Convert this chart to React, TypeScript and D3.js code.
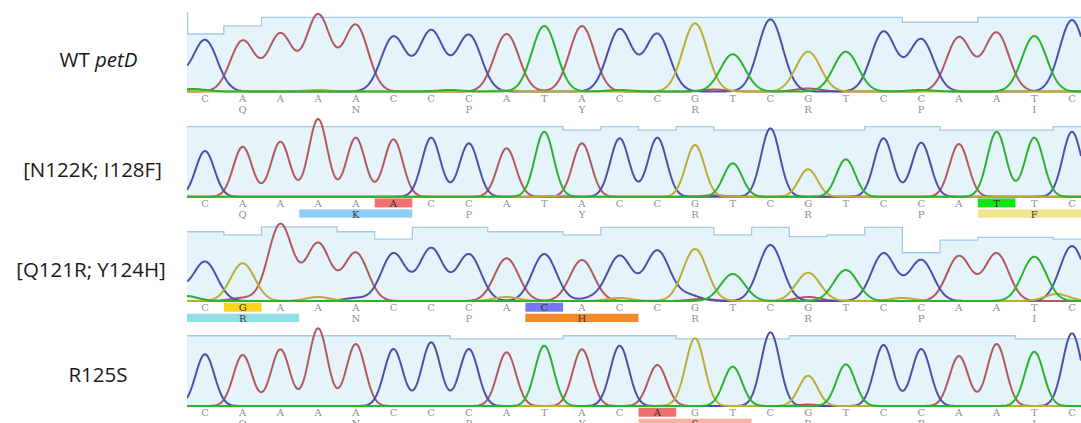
import React from "react";
import * as d3 from "d3";

// ---------- DATA ----------
const W = 1081;
const H = 423;

const channels = ["A", "C", "G", "T"];
const channelColors: Record<string, string> = {
  A: "#b3595c",
  C: "#4c50a8",
  G: "#bcad34",
  T: "#2bb32b",
};

// Panel 1: WT petD
const wtBases = "CAAAACCCATACCGTCGTCCAATC".split("");
const wtHeights = [51.5, 50.8, 57.5, 76.5, 66.5, 54.8, 60.8, 56.5, 57.5, 65.5, 65.5, 62.2, 57.5, 68.2, 37.2, 72.2, 39.8, 39.8, 59.8, 52.2, 54.2, 58.8, 55.5, 71.5];
const wtQuality = [46.5, 53, 60, 60, 60, 60, 60, 60, 60, 60, 60, 60, 60, 60, 60, 60, 60, 60, 60, 56, 56, 60, 60, 60];
const wtAmino = ["Q", "N", "P", "Y", "R", "R", "P", "I"];
const wtMinor: [number, string, number][] = [[-1, "C", 30], [-0.3, "T", 2.5], [3, "G", 1.5], [6.5, "T", 1.5], [8, "G", 1], [11, "T", 1.5], [13.5, "A", 2], [16, "A", 3], [19, "T", 1.5]];

// Panel 2: [N122K; I128F]
const m1Bases = "CAAAAACCATACCGTCGTCCATTC".split("");
const m1Heights = [45.7, 50, 55, 77.7, 59, 57.4, 59, 53.4, 48.4, 65, 53.4, 58.4, 59, 51.7, 33.4, 68.4, 27.4, 37.4, 58.4, 54, 52.7, 65, 59, 65];
const m1Quality = [56.6, 56.6, 56.6, 56.6, 56.6, 56.6, 56.6, 56.6, 56.6, 56.6, 53.9, 56.6, 53.9, 56.6, 53.9, 53.9, 53.9, 53.9, 56.6, 56.6, 53.9, 53.9, 53.9, 56.6];
const m1Amino = ["Q", "K", "P", "Y", "R", "R", "P", "F"];
const m1Minor: [number, string, number][] = [[13.5, "A", 1.5], [9.5, "G", 1]];

// Panel 3: [Q121R; Y124H]
const m2Bases = "CGAAACCCACACCGTCGTCCAATC".split("");
const m2Heights = [39.3, 37.7, 77, 57.7, 48.3, 47.7, 52.7, 46.7, 42.7, 47, 41, 45, 50.3, 52, 27, 56, 28.3, 31, 47.7, 41, 45, 47.7, 44.3, 55];
const m2Quality = [56, 53.4, 60, 60, 56, 50, 59.6, 59.6, 56, 56, 53.4, 59.6, 59.6, 59.6, 53.4, 59.6, 52, 53.4, 59.6, 39, 49.3, 51.5, 51.5, 50];
const m2Amino = ["R", "N", "P", "H", "R", "R", "P", "I"];
const m2Minor: [number, string, number][] = [[-1, "C", 26], [-0.5, "T", 5], [1, "A", 3], [3, "G", 4], [4, "C", 3], [8, "G", 4], [10.3, "C", 3], [11, "G", 3], [12.8, "C", 6], [13.2, "A", 2], [16, "A", 4], [18.5, "G", 3], [22.6, "G", 7]];

// Panel 4: R125S
const m3Bases = "CAAAACCCATACAGTCGTCCAATC".split("");
const m3Heights = [51.7, 51, 56.7, 77.7, 62, 57, 63.7, 57, 53.7, 60.3, 56.7, 60.3, 41, 67.7, 39.3, 73.7, 30.3, 41.7, 61, 57, 50, 62, 54.3, 72.7];
const m3Quality = [56.8, 56.8, 56.8, 56.8, 56.8, 56.8, 56.8, 54.2, 54.2, 54.2, 56.8, 56.8, 56.8, 54.2, 54.2, 54.2, 56.8, 56.8, 56.8, 56.8, 56.8, 56.8, 54.2, 54.2];
const m3Amino = ["Q", "N", "P", "Y", "S", "R", "P", "I"];
const m3Minor: [number, string, number][] = [[16, "A", 1.5], [12.5, "G", 1]];

// Highlights: [base index, colour] and [codon index, colour]
const m1BaseMarks: [number, string][] = [[5, "#f07272"], [21, "#14e414"]];
const m1CodonMarks: [number, string][] = [[1, "#8fcdf5"], [7, "#f0e48e"]];
const m2BaseMarks: [number, string][] = [[1, "#f7d41e"], [9, "#7878f0"]];
const m2CodonMarks: [number, string][] = [[0, "#92e0e6"], [3, "#f58a2c"]];
const m3BaseMarks: [number, string][] = [[12, "#f07070"]];
const m3CodonMarks: [number, string][] = [[4, "#f8b4a2"]];

const labels: [string, boolean][][] = [
  [["WT ", false], ["petD", true]],
  [["[N122K; I128F]", false]],
  [["[Q121R; Y124H]", false]],
  [["R125S", false]],
];

// ---------- LAYOUT ----------
const X0 = 187;
const X1 = 1081;
const layouts = [
  { baseline: 91.5, sigma: 12.3, labelX: 98.5, labelY: 66.7, prevQ: 64 },
  { baseline: 196.7, sigma: 9.3, labelX: 92.5, labelY: 177.3, prevQ: null },
  { baseline: 301, sigma: 12, labelX: 91, labelY: 277.3, prevQ: null },
  { baseline: 406, sigma: 9.3, labelX: 98, labelY: 382, prevQ: null },
];

const panels = [
  { bases: wtBases, heights: wtHeights, quality: wtQuality, amino: wtAmino, minor: wtMinor, baseMarks: [] as [number, string][], codonMarks: [] as [number, string][] },
  { bases: m1Bases, heights: m1Heights, quality: m1Quality, amino: m1Amino, minor: m1Minor, baseMarks: m1BaseMarks, codonMarks: m1CodonMarks },
  { bases: m2Bases, heights: m2Heights, quality: m2Quality, amino: m2Amino, minor: m2Minor, baseMarks: m2BaseMarks, codonMarks: m2CodonMarks },
  { bases: m3Bases, heights: m3Heights, quality: m3Quality, amino: m3Amino, minor: m3Minor, baseMarks: m3BaseMarks, codonMarks: m3CodonMarks },
];

const x = d3.scaleLinear().domain([0, 23]).range([205, 1072]);
const stepW = x(1) - x(0);
const letterFont = "'DejaVu Serif', 'Liberation Serif', serif";

function Panel({ p, L, idx }: any) {
  const base = L.baseline;
  const y = d3.scaleLinear().domain([0, 80]).range([base, base - 80]);
  const yq = d3.scaleLinear().domain([0, 60]).range([base, base - 74.2]);

  const peaks = [
    ...p.bases.map((b: string, i: number) => ({ pos: i, ch: b, h: p.heights[i] })),
    ...p.minor.map(([pos, ch, h]: [number, string, number]) => ({ pos, ch, h })),
  ];
  const xs = d3.range(X0, X1 + 0.5, 1);
  const line = d3.line<[number, number]>().x((d) => d[0]).y((d) => y(d[1]));
  const traces = channels.map((ch) => {
    const ps = peaks.filter((q: any) => q.ch === ch);
    const pts: [number, number][] = xs.map((px) => [
      px,
      ps.reduce((s: number, q: any) => s + q.h * Math.exp(-((px - x(q.pos)) ** 2) / (2 * L.sigma * L.sigma)), 0),
    ]);
    return { ch, d: line(pts) };
  });

  const qpts: [number, number][] = p.quality.map((q: number, i: number) => [i === 0 ? X0 : x(i) - stepW / 2, q]);
  qpts.push([X1, p.quality[p.quality.length - 1]]);
  const qArea = d3.area<[number, number]>().curve(d3.curveStepAfter).x((d) => d[0]).y0(base).y1((d) => yq(d[1]));
  const qLine = d3.line<[number, number]>().curve(d3.curveStepAfter).x((d) => d[0]).y((d) => yq(d[1]));

  const clipId = `clip${idx}`;
  const markMap = new Map<number, string>(p.baseMarks);
  const codonMap = new Map<number, string>(p.codonMarks);

  return (
    <g>
      <defs>
        <clipPath id={clipId}>
          <rect x={X0} y={base - 100} width={X1 - X0} height={140} />
        </clipPath>
      </defs>
      <g clipPath={`url(#${clipId})`}>
        <path d={qArea(qpts) || ""} fill="#e5f4fb" />
        <path d={qLine(qpts) || ""} fill="none" stroke="#a6c9e6" strokeWidth={1.3} />
        {L.prevQ != null && (
          <line x1={X0 + 0.6} x2={X0 + 0.6} y1={yq(L.prevQ)} y2={yq(p.quality[0])} stroke="#a6c9e6" strokeWidth={1.3} />
        )}
        {traces.map((t) => (
          <path key={t.ch} d={t.d || ""} fill="none" stroke={channelColors[t.ch]} strokeWidth={2} strokeLinejoin="round" />
        ))}
        {p.codonMarks.map(([c, col]: [number, string]) => (
          <rect key={"cb" + c} x={x(c * 3) - stepW / 2} y={base + 12.7} width={stepW * 3} height={8.3} fill={col} />
        ))}
        {p.baseMarks.map(([i, col]: [number, string]) => (
          <rect key={"bm" + i} x={x(i) - stepW / 2} y={base + 1.7} width={stepW} height={9} fill={col} />
        ))}
      </g>
      {p.bases.map((b: string, i: number) => (
        <text key={"b" + i} x={x(i)} y={base + 10.3} textAnchor="middle" fontFamily={letterFont} fontSize={10} fill={markMap.has(i) ? "#2a2a2a" : "#8f8f8f"}>
          {b}
        </text>
      ))}
      {p.amino.map((a: string, c: number) => (
        <text key={"a" + c} x={x(c * 3 + 1)} y={base + 21} textAnchor="middle" fontFamily={letterFont} fontSize={10} fill={codonMap.has(c) ? "#3a3a3a" : "#8f8f8f"}>
          {a}
        </text>
      ))}
      <text x={L.labelX} y={L.labelY} textAnchor="middle" fontFamily="'Open Sans', 'Noto Sans', sans-serif" fontSize={20.5} fill="#1a1a1a">
        {labels[idx].map(([s, it]: [string, boolean], k: number) => (
          <tspan key={k} fontStyle={it ? "italic" : "normal"}>{s}</tspan>
        ))}
      </text>
    </g>
  );
}

export default function App() {
  return (
    <svg width={W} height={H} viewBox={`0 0 ${W} ${H}`} style={{ position: "absolute", left: 0, top: 0, background: "#fff" }}>
      <rect x={0} y={0} width={W} height={H} fill="#fff" />
      {panels.map((p, i) => (
        <Panel key={i} p={p} L={layouts[i]} idx={i} />
      ))}
    </svg>
  );
}
